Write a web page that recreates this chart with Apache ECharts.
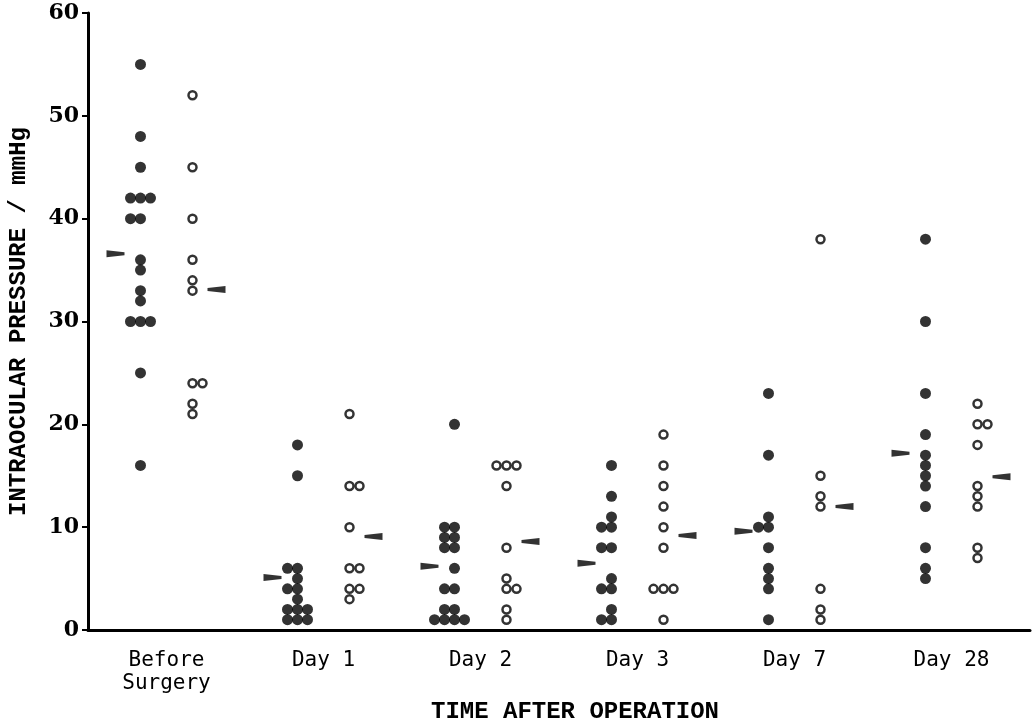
<!DOCTYPE html>
<html>
<head>
<meta charset="utf-8">
<title>Intraocular pressure</title>
<script src="https://cdn.jsdelivr.net/npm/echarts@6/dist/echarts.min.js"></script>
<style>
  html, body { margin: 0; padding: 0; background: #fff; }
  #chart { width: 1033px; height: 723px; }
</style>
</head>
<body>
<div id="chart"></div>
<script>
// x categories
var categories = ['Before\nSurgery', 'Day 1', 'Day 2', 'Day 3', 'Day 7', 'Day 28'];

// filled dots (one group), per category
var filledValues = [
    [55, 48, 45, 42, 42, 42, 40, 40, 36, 35, 33, 32, 30, 30, 30, 25, 16],
    [18, 15, 6, 6, 5, 4, 4, 3, 2, 2, 2, 1, 1, 1],
    [20, 10, 10, 9, 9, 8, 8, 6, 4, 4, 2, 2, 1, 1, 1, 1],
    [16, 13, 11, 10, 10, 8, 8, 5, 4, 4, 2, 1, 1],
    [23, 17, 11, 10, 10, 8, 6, 5, 4, 1],
    [38, 30, 23, 19, 17, 16, 15, 14, 12, 8, 6, 5]
];

// open circles (other group), per category
var openValues = [
    [52, 45, 40, 36, 34, 33, 24, 24, 22, 21],
    [21, 14, 14, 10, 6, 6, 4, 4, 3],
    [16, 16, 16, 14, 8, 5, 4, 4, 2, 1],
    [19, 16, 14, 12, 10, 8, 4, 4, 4, 1],
    [38, 15, 13, 12, 4, 2, 1],
    [22, 20, 20, 18, 14, 13, 12, 8, 7]
];

// group means (wedge markers)
var filledMeans = [36.6, 5.1, 6.2, 6.5, 9.6, 17.2];
var openMeans = [33.1, 9.1, 8.6, 9.2, 12.0, 14.9];

var yTicks = [0, 10, 20, 30, 40, 50, 60];

//把同一数值的点横向错开
function dodge(list, side) {
    var base = side < 0 ? -26 : 26;
    var data = [];
    list.forEach(function(values, ci) {
        var counts = {}, seen = {};
        values.forEach(function(v) { counts[v] = (counts[v] || 0) + 1; });
        values.forEach(function(v) {
            var n = counts[v];
            var k = seen[v] || 0;
            seen[v] = k + 1;
            var start = side < 0 ? -Math.floor(n / 2) * 10 : -Math.floor((n - 1) / 2) * 10;
            data.push({ value: [ci, v], symbolOffset: [base + start + k * 10, 0] });
        });
    });
    return data;
}

function meanData(means) {
    return means.map(function(v, i) { return [i, v]; });
}

var chart = echarts.init(document.getElementById('chart'));

var option = {
    backgroundColor: '#fff',
    animation: false,
    grid: { left: 88, right: 3, top: 13, bottom: 93, containLabel: false, outerBoundsMode: 'none' },
    xAxis: {
        type: 'category',
        data: categories,
        name: 'TIME AFTER OPERATION',
        nameLocation: 'middle',
        nameGap: 62,
        nameTextStyle: {
            fontFamily: 'Liberation Mono', fontSize: 24, fontWeight: 'bold', color: '#000',
            padding: [0, 0, 0, 32]
        },
        axisLine: { lineStyle: { color: '#000', width: 3 } },
        axisTick: { show: false },
        axisLabel: {
            margin: 19, color: '#000', fontFamily: 'DejaVu Sans Mono',
            fontSize: 21, lineHeight: 23, interval: 0
        },
        splitLine: { show: false }
    },
    yAxis: {
        type: 'value',
        min: yTicks[0],
        max: yTicks[yTicks.length - 1],
        interval: 10,
        name: 'INTRAOCULAR PRESSURE / mmHg',
        nameLocation: 'middle',
        nameGap: 57,
        nameTextStyle: { fontFamily: 'Liberation Mono', fontSize: 24, fontWeight: 'bold', color: '#000' },
        axisLine: { show: true, lineStyle: { color: '#000', width: 3 } },
        axisTick: { show: true, length: 6, lineStyle: { color: '#000', width: 2 } },
        axisLabel: {
            margin: 9, color: '#000', fontFamily: 'DejaVu Serif',
            fontWeight: 'bold', fontSize: 22
        },
        splitLine: { show: false }
    },
    series: [
        {
            type: 'scatter',
            data: dodge(filledValues, -1),
            symbol: 'circle',
            symbolSize: 11,
            itemStyle: { color: '#000' },
            z: 3
        },
        {
            type: 'scatter',
            data: dodge(openValues, 1),
            symbol: 'circle',
            symbolSize: 8,
            itemStyle: { color: '#fff', borderColor: '#000', borderWidth: 2.5 },
            z: 3
        },
        {
            type: 'scatter',
            data: meanData(filledMeans),
            symbol: 'path://M0,0 L18,2 L18,5 L0,7 Z',
            symbolSize: [18, 7],
            symbolKeepAspect: false,
            symbolOffset: [-51, 0],
            itemStyle: { color: '#000' },
            z: 2
        },
        {
            type: 'scatter',
            data: meanData(openMeans),
            symbol: 'path://M0,2 L18,0 L18,7 L0,5 Z',
            symbolSize: [18, 7],
            symbolKeepAspect: false,
            symbolOffset: [50, 0],
            itemStyle: { color: '#000' },
            z: 2
        }
    ]
};

chart.setOption(option);
</script>
</body>
</html>
